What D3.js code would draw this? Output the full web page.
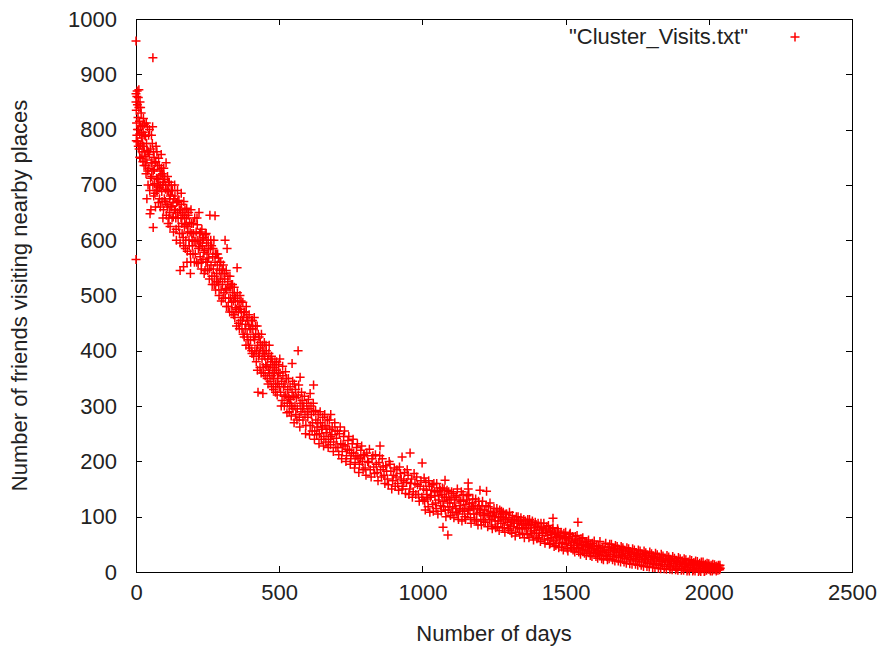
<!DOCTYPE html>
<html>
<head>
<meta charset="utf-8">
<script src="https://d3js.org/d3.v7.min.js"></script>
<style>
  body { margin: 0; background: #fff; }
  text { font-family: "Liberation Sans", Arial, sans-serif; font-size: 22px; fill: #222; }
</style>
</head>
<body>
<div id="chart"></div>
<script>
// tick values
var xTicks = [0, 500, 1000, 1500, 2000, 2500];
var yTicks = [0, 100, 200, 300, 400, 500, 600, 700, 800, 900, 1000];
var seriesName = '"Cluster_Visits.txt"';
var xTitle = 'Number of days';
var yTitle = 'Number of friends visiting nearby places';

// [day, friends], split by stretch of the curve
var outliers = [[0,960],[59,930],[0,565],[1089,67],[1072,81],[566,400],[258,645],[276,644],[353,550],
  [154,545],[166,552],[178,560],[190,540],[852,228],[1456,97],[1543,90],[620,338],[1160,150]];

var firstDays = [
  [0,865],[0,850],[1,835],[2,812],[3,790],[4,870],[5,845],[6,778],[7,822],[8,858],[9,800],[10,840],
  [11,765],[12,815],[13,792],[14,850],[15,772],[16,805],[17,748],[18,830],[20,785],[21,760],[22,808],
  [24,742],[25,795],[27,770],[28,735],[30,810],[32,752],[33,788],[35,720],[37,775],[38,675],[38,745],
  [40,805],[42,700],[43,760],[45,730],[47,800],[48,690],[49,648],[50,765],[52,655],[53,740],[55,715],
  [57,775],[58,805],[60,623],[60,725],[62,680],[63,750],[65,702],[67,740],[68,660],[70,770],[72,712],
  [74,690],[75,735],[77,698],[79,748],[80,710],[82,675],[84,725],[86,700],[88,755],[90,688],[92,720],
  [94,640],[95,705],[97,730],[99,675],[100,710],[103,692],[105,740],[108,665],[110,715],[112,630],
  [114,688],[116,705],[118,650],[120,680],[123,700],[125,660],[127,690],[130,642],[132,675],[135,700],
  [137,655],[140,620],[142,668],[145,690],[147,640],[150,672],[152,612],[155,655],[158,685],[160,630],
  [162,650],[165,605],[167,670],[170,640],[172,585],[175,628],[177,658],[180,615],[182,645],[185,600],
  [187,632],[190,575],[192,655],[195,612],[197,590],[200,630],
  [1,780],[3,860],[5,800],[8,770],[10,872],[13,750],[16,840],[19,790],[23,775],[26,820],[29,760],
  [31,790],[34,735],[36,812],[39,762],[41,725],[44,790],[46,755],[51,712],[54,790],[56,740],[59,700],
  [61,760],[64,728],[66,685],[69,742],[71,690],[73,760],[76,710],[78,668],[81,735],[83,695],[85,660],
  [87,718],[89,730],[91,670],[93,700],[96,655],[98,715],[102,670],[104,700],[106,645],[109,690],
  [111,660],[113,705],[115,640],[117,675],[119,625],[122,662],[124,690],[126,640],[129,668],[131,615],
  [134,655],[136,680],[139,640],[141,600],[144,650],[146,670],[149,625],[151,655],[154,595],[157,640],
  [159,665],[161,612],[164,645],[166,590],[169,625],[171,655],[174,600],[176,640],[179,580],[181,625],
  [184,650],[186,590],[189,615],[191,560],[194,630],[196,600],[199,575]
];

var earlyDecline = [
  [203,598],[205,640],[207,575],[210,615],[212,560],[214,628],[216,600],[218,585],[220,650],[222,612],
  [224,570],[226,595],[228,548],[230,620],[232,590],[234,565],[236,605],[238,540],[240,582],[242,610],
  [244,560],[246,595],[248,575],[250,545],[252,600],[254,568],[256,530],[260,585],[262,555],[264,590],
  [266,520],[268,570],[270,548],[272,600],[274,535],[276,560],[278,510],[280,575],[282,540],[284,555],
  [286,525],[288,568],[290,500],[292,545],[294,530],[296,560],[298,490],[300,540],[302,520],[305,555],
  [307,505],[310,530],[311,600],[312,495],[315,545],[317,510],[318,585],[320,525],[322,480],[325,515],
  [328,535],[330,495],[333,520],[335,470],[338,505],[340,490],[343,515],[345,460],[348,495],[350,475],
  [355,490],[358,450],[360,480],[363,500],[365,455],[368,470],[370,440],[373,488],[375,460],[378,425],
  [380,470],[383,448],[385,480],[388,430],[390,455],[393,410],[395,465],[398,440],[400,420],[403,455],
  [405,395],[408,440],[410,425],[413,460],[415,400],[418,430],[420,380],[423,445],[425,410],[426,325],
  [428,390],[430,425],[433,370],[435,405],[438,430],[440,385],[443,323],[443,400],[445,360],[448,415],
  [450,390],[453,375],[455,400],[458,350],[460,385],[463,365],[465,410],[468,345],[470,375],[473,390],
  [475,355],[478,370],[480,330],[483,360],[485,380],[488,340],[490,365],[493,320],[495,350],[498,375],
  [500,335],
  [201,612],[204,560],[209,598],[213,640],[217,558],[221,588],[225,615],[229,560],[233,602],[237,578],
  [241,545],[245,612],[249,560],[253,585],[257,548],[261,600],[265,535],[269,585],[273,520],[277,575],
  [281,525],[285,575],[289,520],[293,560],[297,510],[301,548],[304,495],[308,540],[313,512],[316,480],
  [321,535],[324,495],[327,470],[331,515],[334,488],[337,520],[341,465],[344,500],[347,478],[351,445],
  [354,505],[357,470],[361,440],[364,475],[367,490],[371,455],[374,430],[377,470],[381,440],[384,410],
  [387,460],[391,420],[394,445],[397,405],[401,440],[404,400],[407,455],[411,390],[414,420],[417,445],
  [421,400],[424,365],[427,430],[431,395],[434,415],[437,360],[441,410],[444,370],[447,395],[451,355],
  [454,410],[457,372],[461,340],[464,395],[467,360],[471,385],[474,335],[477,380],[481,350],[484,370],
  [487,325],[491,380],[494,340],[497,360]
];

var midDecline = [
  [503,360],[505,325],[508,345],[510,310],[513,355],[515,335],[518,300],[520,340],[523,320],[525,350],
  [528,305],[530,330],[533,315],[535,290],[538,335],[540,312],[543,300],[545,377],[545,325],[548,295],
  [550,318],[553,340],[555,300],[558,285],[560,315],[563,295],[567,320],[570,280],[573,352],[573,305],
  [576,290],[580,310],[583,275],[586,300],[590,285],[593,265],[596,305],[600,280],[604,295],[608,323],
  [608,265],[612,285],[616,270],[620,290],[624,255],[628,275],[632,262],[636,285],[640,250],[644,270],
  [648,258],[652,280],[656,245],[660,265],[664,252],[668,275],[672,240],[676,258],[680,285],[680,245],
  [685,262],[690,235],[695,255],[700,242],[705,225],[710,250],[715,232],[720,218],[725,245],[730,228],
  [735,210],[740,238],[745,220],[750,205],[755,232],[760,215],[765,198],[770,225],[775,208],[780,195],
  [785,220],[790,200],[795,212],[800,188],[806,215],[812,198],[818,185],[824,205],[830,190],[836,212],
  [842,180],[848,198],[854,185],[860,205],[866,175],[872,192],[878,168],[884,200],[890,182],[896,165],
  [902,188],[908,172],[914,160],[920,190],[926,168],[929,208],[932,155],[938,180],[944,162],[950,175],
  [956,150],[957,215],[962,168],[968,145],[974,160],[980,172],[986,140],[992,155],[998,135],[999,197],
  [502,385],[507,300],[512,372],[517,318],[522,362],[527,288],[532,350],[537,305],[542,282],[547,345],
  [552,270],[557,330],[562,275],[568,338],[572,262],[578,325],[582,295],[588,318],[592,250],[598,290],
  [602,312],[606,248],[611,300],[615,255],[619,305],[623,240],[627,292],[631,248],[635,270],[639,232],
  [643,290],[647,240],[651,262],[655,228],[659,285],[663,235],[667,258],[671,225],[675,275],[679,230],
  [684,248],[689,218],[694,270],[698,225],[703,255],[708,212],[713,262],[718,205],[723,230],[728,255],
  [733,200],[738,222],[743,245],[748,195],[753,215],[758,240],[763,188],[768,210],[773,232],[778,180],
  [783,205],[788,228],[793,185],[798,210],[803,175],[809,200],[815,222],[821,172],[827,210],[833,178],
  [839,195],[845,165],[851,210],[857,172],[863,190],[869,160],[875,182],[881,158],[887,195],[893,150],
  [899,175],[905,155],[911,185],[917,148],[923,178],[929,150],[935,165],[941,142],[947,185],[953,140],
  [959,160],[965,135],[971,178],[977,140],[983,158],[989,128],[995,165]
];

var lateTail = [
  [1004,150],[1008,128],[1012,162],[1016,140],[1020,118],[1024,155],[1028,135],[1032,148],[1036,122],
  [1040,160],[1044,138],[1048,115],[1052,145],[1056,130],[1060,152],[1064,120],[1068,140],[1072,128],
  [1076,150],[1079,166],[1080,112],[1084,135],[1088,125],[1092,145],[1096,118],[1100,132],[1104,108],
  [1108,142],[1112,125],[1116,115],[1120,138],[1124,105],[1128,130],[1132,120],[1136,145],[1140,110],
  [1144,128],[1148,100],[1152,122],[1156,138],[1160,161],[1160,112],[1164,125],[1168,98],[1172,118],
  [1176,132],[1180,105],[1184,120],[1188,92],[1192,115],[1196,128],[1200,108],[1201,148],[1204,95],
  [1208,120],[1212,102],[1216,112],[1220,90],[1224,146],[1226,106],[1230,118],[1234,95],[1238,110],
  [1242,85],[1246,102],[1250,115],[1254,92],[1258,105],[1262,82],[1266,100],[1270,112],[1274,88],
  [1278,98],[1282,108],[1286,80],[1290,95],[1294,105],[1298,85],[1302,98],[1306,75],[1310,92],
  [1314,102],[1318,82],[1322,95],[1326,72],[1330,88],[1334,100],[1338,78],[1342,92],[1346,85],
  [1350,70],[1354,95],[1358,80],[1362,88],[1366,68],[1370,84],[1374,95],[1378,74],[1382,86],[1386,65],
  [1390,80],[1394,90],[1398,70],[1402,82],[1406,62],[1410,76],[1414,88],[1418,66],[1422,78],[1426,58],
  [1430,72],[1434,82],[1438,60],[1442,74],[1446,52],[1450,68],[1454,78],[1458,56],[1462,70],[1466,48],
  [1470,64],[1474,74],[1478,52],[1482,66],[1486,45],[1490,60],[1494,70],[1498,50],[1502,62],[1506,42],
  [1510,58],[1514,68],[1518,48],[1522,56],[1526,40],[1530,54],[1534,64],[1538,44],[1542,52],[1546,36],
  [1550,50],[1554,60],[1558,40],[1562,48],[1566,34],[1570,46],[1574,55],[1578,38],[1582,44],[1586,30],
  [1590,42],[1594,52],[1598,35],[1602,40],[1606,28],[1610,38],[1614,48],[1618,32],[1622,38],[1626,24],
  [1630,36],[1634,45],[1638,30],[1642,35],[1646,22],
  [1650,40],[1654,50],[1658,32],[1662,44],[1666,28],[1670,38],[1674,48],[1678,30],[1682,42],[1686,26],
  [1690,36],[1694,46],[1698,28],[1702,40],[1706,24],[1710,34],[1714,44],[1718,26],[1722,37],[1726,22],
  [1730,32],[1734,42],[1738,24],[1742,35],[1746,20],[1750,30],[1754,40],[1758,22],[1762,33],[1766,18],
  [1770,28],[1774,38],[1778,20],[1782,30],[1786,16],[1790,26],[1794,36],[1798,18],[1802,28],[1806,14],
  [1810,24],[1814,34],[1818,16],[1822,26],[1826,12],[1830,22],[1834,32],[1838,14],[1842,24],[1846,10],
  [1850,21],[1854,30],[1858,13],[1862,22],[1866,9],[1870,19],[1874,28],[1878,11],[1882,20],[1886,7],
  [1890,17],[1894,26],[1898,10],[1902,18],[1906,6],[1910,16],[1914,24],[1918,9],[1922,16],[1926,5],
  [1930,14],[1934,22],[1938,8],[1942,15],[1946,4],[1950,13],[1954,20],[1958,7],[1962,13],[1966,3],
  [1970,12],[1974,18],[1978,6],[1982,12],[1986,2],[1990,10],[1994,16],[1998,5],[2002,11],[2006,2],
  [2010,9],[2014,14],[2018,4],[2022,10],[2026,2],[2030,8],[2034,12],[2038,4],[2040,7]
];

var tailSpread = [
  [1002,130],[1006,170],[1010,112],[1014,148],[1018,132],[1022,165],[1026,108],[1030,138],[1034,158],
  [1038,110],[1042,145],[1046,125],[1050,160],[1054,105],[1058,138],[1062,148],[1066,110],[1070,152],
  [1074,118],[1078,135],[1082,100],[1086,148],[1090,112],[1094,130],[1098,102],[1102,145],[1106,118],
  [1110,98],[1114,135],[1118,108],[1122,150],[1126,95],[1130,112],[1134,128],[1138,92],[1142,140],
  [1146,115],[1150,95],[1154,130],[1158,105],[1162,140],[1166,112],[1170,88],[1174,125],[1178,115],
  [1182,95],[1186,132],[1190,105],[1194,85],[1198,120],[1202,112],[1206,85],[1210,128],[1214,92],
  [1218,105],[1222,120],[1228,82],[1232,102],[1236,125],[1240,95],[1244,78],[1248,108],[1252,100],
  [1256,80],[1260,115],[1264,92],[1268,75],[1272,100],[1276,110],[1280,80],[1284,95],[1288,72],
  [1292,105],[1296,90],[1300,78],[1304,108],[1308,85],[1312,70],[1316,95],[1320,88],[1324,65],
  [1328,100],[1332,80],[1336,92],[1340,68],[1344,98],[1348,78],[1352,88],[1356,62],[1360,92],[1364,78],
  [1368,95],[1372,62],[1376,86],[1380,70],[1384,92],[1388,58],[1392,75],[1396,85],[1400,60],[1404,88],
  [1408,70],[1412,55],[1416,80],[1420,70],[1424,88],[1428,52],[1432,76],[1436,66],[1440,84],[1444,50],
  [1448,72],[1452,62],[1456,80],[1460,46],[1464,68],[1468,58],[1472,78],[1476,44],[1480,62],[1484,72],
  [1488,54],[1492,40],[1496,64],[1500,72],[1504,52],[1508,38],[1512,60],[1516,70],[1520,44],[1524,64],
  [1528,48],[1532,36],[1536,58],[1540,66],[1544,42],[1548,56],[1552,32],[1556,50],[1560,62],[1564,40],
  [1568,54],[1572,30],[1576,48],[1580,58],[1584,36],[1588,50],[1592,28],[1596,46],[1600,56],[1604,34],
  [1608,46],[1612,25],[1616,42],[1620,55],[1624,30],[1628,44],[1632,22],[1636,40],[1640,52],[1644,28],
  [1648,45],[1652,24],[1656,38],[1660,50],[1664,22],[1668,42],[1672,20],[1676,35],[1680,46],[1684,20],
  [1688,40],[1692,18],[1696,32],[1700,44],[1704,18],[1708,38],[1712,16],[1716,30],[1720,42],[1724,15],
  [1728,36],[1732,14],[1736,28],[1740,40],[1744,14],[1748,34],[1752,12],[1756,26],[1760,38],[1764,12],
  [1768,32],[1772,10],[1776,24],[1780,35],[1784,10],[1788,30],[1792,9],[1796,22],[1800,33],[1804,8],
  [1808,28],[1812,8],[1816,20],[1820,31],[1824,7],[1828,26],[1832,6],[1836,19],[1840,29],[1844,6],
  [1848,24],[1852,5],[1856,18],[1860,27],[1864,5],[1868,22],[1872,4],[1876,16],[1880,25],[1884,4],
  [1888,21],[1892,3],[1896,14],[1900,24],[1904,3],[1908,20],[1912,3],[1916,13],[1920,22],[1924,2],
  [1928,18],[1932,2],[1936,12],[1940,21],[1944,2],[1948,17],[1952,2],[1956,11],[1960,19],[1964,1],
  [1968,16],[1972,1],[1976,10],[1980,18],[1984,1],[1988,14],[1992,3],[1996,9],[2000,15],[2004,4],
  [2008,12],[2012,2],[2016,8],[2020,13],[2024,5],[2028,11],[2032,3],[2036,9],[2039,12]
];

var width = 880, height = 650;
var plotLeft = 136, plotRight = 852, plotTop = 19, plotBottom = 572;
var tickLen = 6, arm = 4.5;

var svg = d3.select('#chart').append('svg')
  .attr('width', width)
  .attr('height', height);

var x = d3.scaleLinear().domain([0, 2500]).range([plotLeft, plotRight]);
var y = d3.scaleLinear().domain([0, 1000]).range([plotBottom, plotTop]);

// inward ticks on all four sides, gnuplot style
var axes = [
  {ax: d3.axisBottom(x).tickValues(xTicks).tickFormat(d3.format('d')).tickPadding(12), pos: 'translate(0,' + plotBottom + ')'},
  {ax: d3.axisTop(x).tickValues(xTicks).tickFormat(''), pos: 'translate(0,' + plotTop + ')'},
  {ax: d3.axisLeft(y).tickValues(yTicks).tickFormat(d3.format('d')).tickPadding(19), pos: 'translate(' + plotLeft + ',0)'},
  {ax: d3.axisRight(y).tickValues(yTicks).tickFormat(''), pos: 'translate(' + plotRight + ',0)'}
];
axes.forEach(function(a) {
  var g = svg.append('g')
    .attr('transform', a.pos)
    .style('color', '#000')
    .call(a.ax.tickSizeInner(-tickLen).tickSizeOuter(0));
  g.select('.domain').remove();
  g.selectAll('line').attr('shape-rendering', 'crispEdges');
});

svg.append('rect')
  .attr('x', plotLeft + 0.5)
  .attr('y', plotTop + 0.5)
  .attr('width', plotRight - plotLeft)
  .attr('height', plotBottom - plotTop)
  .attr('fill', 'none')
  .attr('stroke', '#000')
  .attr('shape-rendering', 'crispEdges');

// axis titles
svg.append('text')
  .attr('x', (plotLeft + plotRight) / 2)
  .attr('y', 641)
  .attr('text-anchor', 'middle')
  .text(xTitle);

svg.append('text')
  .attr('transform', 'translate(27,' + (plotTop + plotBottom) / 2 + ') rotate(-90)')
  .attr('text-anchor', 'middle')
  .text(yTitle);

// crosses
function cross(px, py) {
  return 'M' + (px - arm) + ',' + py + 'H' + (px + arm) + 'M' + px + ',' + (py - arm) + 'V' + (py + arm);
}

var points = firstDays.concat(earlyDecline, midDecline, lateTail, tailSpread, outliers);

svg.append('g')
  .selectAll('path')
  .data(points)
  .enter().append('path')
  .attr('d', function(d) { return cross(x(d[0]), y(d[1])); })
  .attr('stroke', '#ff0000')
  .attr('stroke-width', 1.5)
  .attr('fill', 'none');

// key
svg.append('text')
  .attr('x', 748)
  .attr('y', 44)
  .attr('text-anchor', 'end')
  .text(seriesName);

svg.append('path')
  .attr('d', cross(795, 37))
  .attr('stroke', '#ff0000')
  .attr('stroke-width', 1.5)
  .attr('fill', 'none');
</script>
</body>
</html>
